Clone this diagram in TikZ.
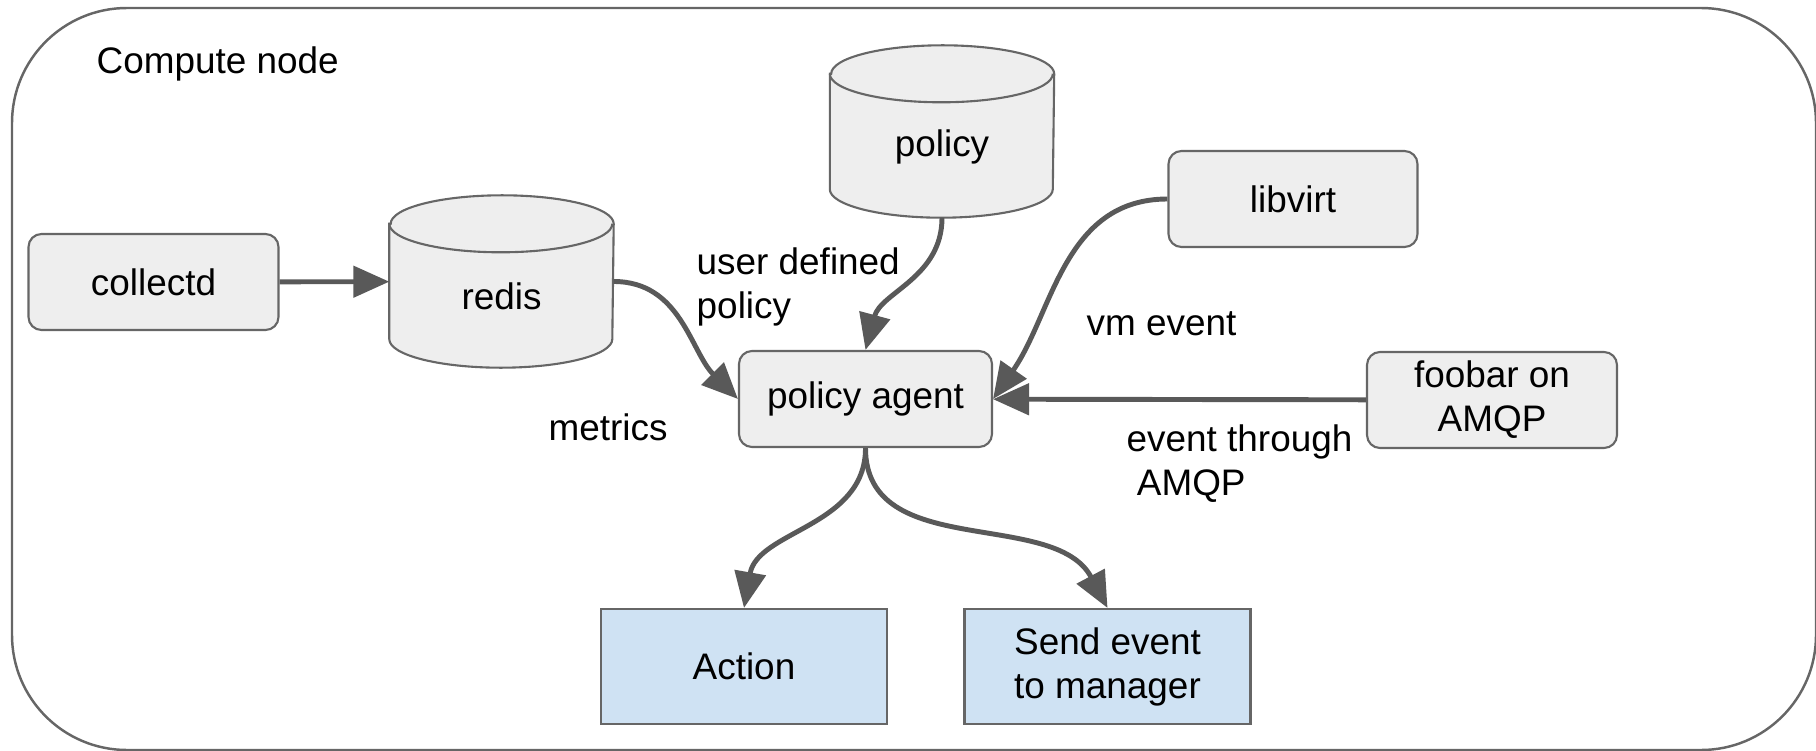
\documentclass[tikz,border=0pt]{standalone}
\usepackage{fontspec}
\setmainfont{Liberation Sans}
\usepackage{xcolor}
\usepackage{tikz}
\usetikzlibrary{arrows.meta,backgrounds,positioning}
\definecolor{boxfill}{HTML}{EEEEEE}
\definecolor{boxline}{HTML}{666666}
\definecolor{wire}{HTML}{595959}
\definecolor{outfill}{HTML}{CFE2F3}
\newcommand{\dblabel}[1]{\raisebox{-0.15cm}[\height][\depth]{#1}}
\tikzset{
  frame/.style={draw=boxline, line width=0.7pt, rounded corners=1.15cm},
  box/.style={draw=boxline, fill=boxfill, line width=0.6pt, rounded corners=0.13cm,
    minimum width=2.5cm, minimum height=0.96cm, align=center, inner sep=0pt},
  db/.style={minimum width=2.23cm, minimum height=1.71cm, inner sep=0pt},
  dbline/.style={draw=boxline, fill=boxfill, line width=0.6pt},
  outbox/.style={draw=boxline, fill=outfill, line width=0.6pt,
    minimum width=2.86cm, minimum height=1.15cm, align=center, inner sep=0pt},
  flow/.style={draw=wire, line width=1.4pt, -{Triangle[length=0.36cm, width=0.31cm]}},
  lab/.style={align=left, inner sep=0pt},
}

\begin{document}
\begin{tikzpicture}[font=\fontsize{10.5}{12.5}\selectfont]
\useasboundingbox (0,0) rectangle (18.16,7.5);
\draw[frame] (0.12,7.42) rectangle (18.16,0);
\node[lab, anchor=west] (title) at (0.96,6.86) {Compute node};

% sources
\node[box] (collectd) at (1.535,4.68) {collectd};
\node[db] (redis) at (5.015,4.685) {\dblabel{redis}};
\node[db] (policy) at (9.42,6.185) {\dblabel{policy}};
\node[box, minimum width=2.49cm] (libvirt) at (12.93,5.51) {libvirt};
\node[box] (foobar) at (14.92,3.50) {foobar on\\AMQP};
\node[box, minimum width=2.53cm] (pagent) at (8.655,3.51) {policy agent};

% cylinders behind the store names
\begin{scope}[on background layer]
\foreach \n in {redis,policy} {
  \path[dbline] ([yshift=-0.285cm]\n.north west) -- ([yshift=0.285cm]\n.south west)
    arc[start angle=180, end angle=360, x radius=1.115cm, y radius=0.285cm]
    -- ([yshift=-0.285cm]\n.north east)
    arc[start angle=0, end angle=180, x radius=1.115cm, y radius=0.285cm] -- cycle;
  \draw[dbline, fill=none] ([yshift=-0.285cm]\n.north west)
    arc[start angle=180, end angle=360, x radius=1.115cm, y radius=0.285cm];
}
\end{scope}

% outputs
\node[outbox] (action) at (7.44,0.835) {Action};
\node[outbox] (send) at (11.075,0.835) {Send event\\to manager};

% labels
\node[lab, anchor=west] (lpolicy) at (6.96,4.63) {user defined\\policy};
\node[lab, anchor=west] (lvm) at (10.86,4.26) {vm event};
\node[lab] (lmetrics) at (6.08,3.23) {metrics};
\node[lab, anchor=west] (lamqp) at (11.26,2.86) {event through\\\hspace*{2.9pt}AMQP};

\draw[flow] (collectd) -- (redis);
\draw[flow] (redis.east) to[out=0, in=135] (pagent.west);
\draw[flow] (policy.south) to[out=-90, in=75] (pagent.north);
\draw[flow] (libvirt.west) to[out=180, in=55] (pagent.east);
\draw[flow] (foobar) -- (pagent);
\draw[flow] (pagent.south) to[out=-90, in=80] (action.north);
\draw[flow] (pagent.south) to[out=-90, in=118] (send.north);
\end{tikzpicture}
\end{document}
